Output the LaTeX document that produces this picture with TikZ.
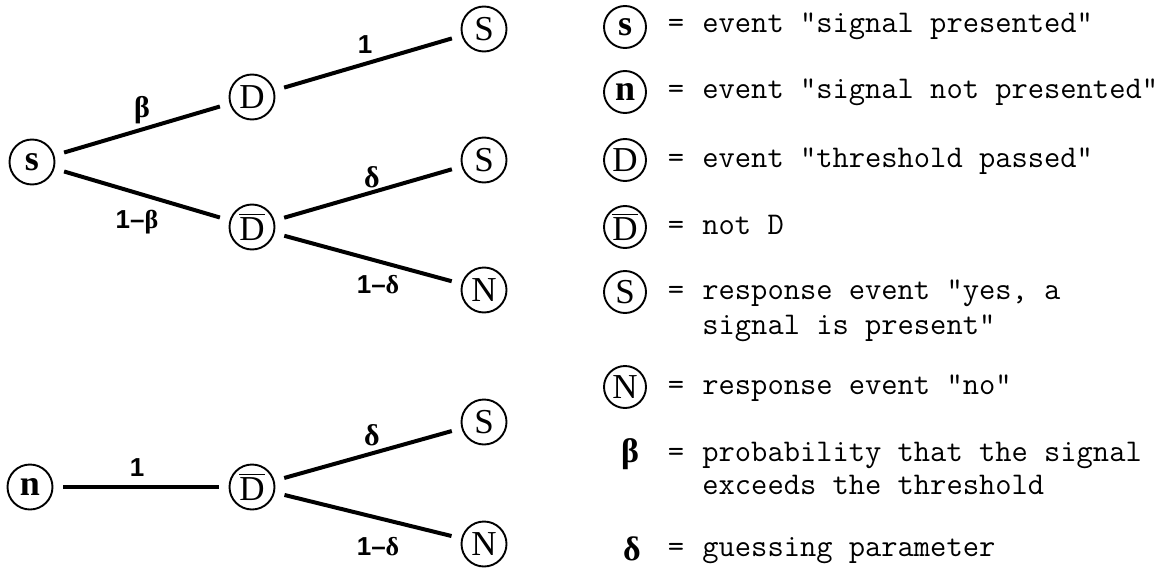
\documentclass[tikz,border=0pt]{standalone}
\usepackage{fontspec}
\newfontfamily\circfont{Liberation Serif}
\newfontfamily\labsans{Liberation Sans}
\newfontfamily\labserif{Liberation Serif}
\newcommand\overD{$\overline{\hbox{D}}$}
\newcommand\gk[1]{{\labserif\bfseries #1}}
\begin{document}
\begin{tikzpicture}[x=0.5pt,y=-0.5pt,
  ev/.style={circle,draw,line width=0.95pt,minimum size=22.5pt,inner sep=0pt,font=\circfont\fontsize{17.5}{17.5}\selectfont},
  lev/.style={ev,minimum size=21pt},
  lc/.style={font=\circfont\bfseries\fontsize{18}{18}\selectfont},
  br/.style={line width=2pt,shorten <=5pt,shorten >=5pt},
  pl/.style={inner sep=0pt,font=\labsans\bfseries\fontsize{13}{13}\selectfont},
  gl/.style={inner sep=0pt,font=\labserif\bfseries\fontsize{15}{15}\selectfont},
  tx/.style={anchor=base west,inner sep=0pt,font=\ttfamily\fontsize{15.8}{15.8}\selectfont},
  eqs/.style={anchor=base,inner sep=0pt,font=\ttfamily\fontsize{15.8}{15.8}\selectfont}]
\useasboundingbox (0,0) rectangle (1160,567);

% upper tree
\node[ev,lc] (s) at (32,162) {s};
\node[ev] (D) at (252,97) {D};
\node[ev] (Db) at (252,227) {\overD};
\node[ev] (S1) at (484,29) {S};
\node[ev] (S2) at (484,160) {S};
\node[ev] (N1) at (484,290) {N};
\draw[br] (s) -- (D);
\draw[br] (s) -- (Db);
\draw[br] (D) -- (S1);
\draw[br] (Db) -- (S2);
\draw[br] (Db) -- (N1);
\node[gl] (lb) at (142,110) {β};
\node[pl] (l1b) at (137,222) {1–\gk{β}};
\node[pl] (l1) at (365,45) {1};
\node[gl] (ld) at (372,177) {δ};
\node[pl] (l1d) at (378,285) {1–\gk{δ}};

% lower tree
\node[ev,lc] (n) at (30,487) {n};
\node[ev] (Db2) at (252,487) {\overD};
\node[ev] (S3) at (484,422) {S};
\node[ev] (N2) at (484,544) {N};
\draw[br,line width=1.6pt] (n) -- (Db2);
\draw[br] (Db2) -- (S3);
\draw[br] (Db2) -- (N2);
\node[pl] (m1) at (137,468) {1};
\node[gl] (md) at (372,435) {δ};
\node[pl] (m1d) at (378,547) {1–\gk{δ}};

% legend
\node[lev,lc] (ks) at (625,27) {s};
\node[eqs] (e1) at (676,33) {=};
\node[tx] (t1) at (702,33) {event "signal presented"};
\node[lev,lc] (kn) at (625,92) {n};
\node[eqs] (e2) at (676,98) {=};
\node[tx] (t2) at (702,98) {event "signal not presented"};
\node[lev] (kD) at (625,160) {D};
\node[eqs] (e3) at (676,167) {=};
\node[tx] (t3) at (702,167) {event "threshold passed"};
\node[lev] (kDb) at (625,227) {\overD};
\node[eqs] (e4) at (676,234) {=};
\node[tx] (t4) at (702,234) {not D};
\node[lev] (kS) at (625,292) {S};
\node[eqs] (e5) at (676,299) {=};
\node[tx] (t5) at (702,299) {response event "yes, a};
\node[tx] (t5b) at (702,334) {signal is present"};
\node[lev] (kN) at (625,387) {N};
\node[eqs] (e6) at (676,394) {=};
\node[tx] (t6) at (702,394) {response event "no"};
\node[gl,font=\labserif\bfseries\fontsize{17}{17}\selectfont] (kb) at (630,454) {β};
\node[eqs] (e7) at (676,461) {=};
\node[tx] (t7) at (702,461) {probability that the signal};
\node[tx] (t7b) at (702,494) {exceeds the threshold};
\node[gl,font=\labserif\bfseries\fontsize{17}{17}\selectfont] (kd) at (632,549) {δ};
\node[eqs] (e8) at (676,556) {=};
\node[tx] (t8) at (702,556) {guessing parameter};
\end{tikzpicture}
\end{document}
